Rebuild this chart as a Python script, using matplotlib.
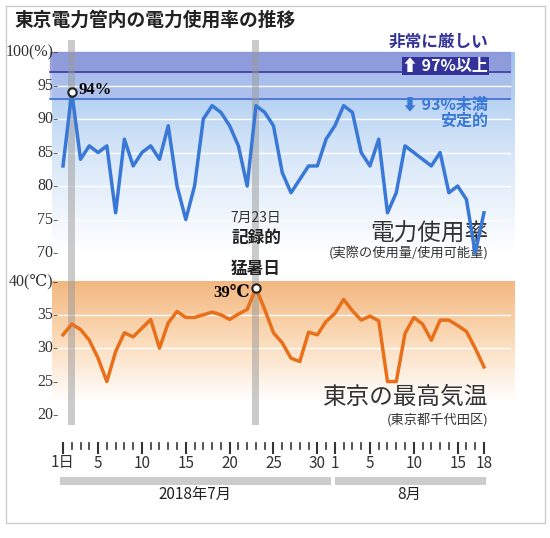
import numpy as np
import matplotlib
matplotlib.use("Agg")
import matplotlib.pyplot as plt
from matplotlib.colors import LinearSegmentedColormap

plt.rcParams['font.family'] = ['Noto Sans CJK JP', 'DejaVu Sans']

days = list(range(1, 32)) + list(range(1, 19))
power = [83, 94, 84, 86, 85, 86, 76, 87, 83, 85, 86, 84, 89, 80, 75, 80, 90, 92, 91, 89,
         86, 80, 92, 91, 89, 82, 79, 81, 83, 83, 87, 89, 92, 91, 85, 83, 87, 76, 79, 86,
         85, 84, 83, 85, 79, 80, 78, 70, 76]
temp = [32, 33.6, 32.8, 31.2, 28.5, 25, 29.5, 32.3, 31.7, 33, 34.3, 30, 33.8, 35.5, 34.6,
        34.6, 35, 35.4, 35, 34.3, 35.1, 35.8, 39, 35.8, 32.3, 30.8, 28.5, 28, 32.4, 32,
        34, 35.2, 37.3, 35.6, 34.2, 34.8, 34.1, 25, 25, 32.2, 34.6, 33.6, 31.2, 34.2,
        34.2, 33.4, 32.5, 30, 27.2]
power_ticks = [70, 75, 80, 85, 90, 95, 100]
temp_ticks = [20, 25, 30, 35, 40]
tick_days = ["1日", "5", "10", "15", "20", "25", "30", "1", "5", "10", "15", "18"]
tick_idx = [0, 4, 9, 14, 19, 24, 29, 31, 35, 40, 45, 48]

W, H = 550, 538
fig = plt.figure(figsize=(5.5, 5.38), dpi=100)
fig.patch.set_facecolor('white')

def ax_px(l, t, r, b):
    return fig.add_axes([l / W, 1 - b / H, (r - l) / W, (b - t) / H])

# outer frame
frame = fig.add_axes([0, 0, 1, 1]); frame.set_xlim(0, W); frame.set_ylim(H, 0); frame.axis('off')
frame.add_patch(plt.Rectangle((6, 6), 539, 517, fill=False, ec='#cccccc', lw=1))
frame.text(14, 20, "東京電力管内の電力使用率の推移", fontsize=13.5, fontweight='bold', va='center', color='#222')

x = np.arange(len(days))
x0, dx = 63, 8.77
xl = ((40 - x0) / dx, (525 - x0) / dx)
serif = ['Liberation Serif', 'DejaVu Serif']

# power axes
a1 = ax_px(40, 40, 525, 260)
a1.set_xlim(*xl); a1.set_ylim(68.96, 101.8); a1.axis('off')
grad = np.linspace(1, 0, 256).reshape(-1, 1)
cm_b = LinearSegmentedColormap.from_list('b', ['#ffffff', '#d6e6f8', '#9cc2ee'])
a1.imshow(grad, aspect='auto', cmap=cm_b, extent=(-1.2, 51.5, 70, 100), zorder=0)
a1.axhspan(97, 100, xmin=0.02, xmax=0.97, color='#8a8fd6', alpha=0.75, zorder=1)
a1.axhspan(93, 97, xmin=0.02, xmax=0.97, color='#a9b6ea', alpha=0.6, zorder=1)
a1.axhline(97, xmin=0.02, xmax=0.97, color='#3a3a9a', lw=1.2, zorder=2)
a1.axhline(93, xmin=0.02, xmax=0.97, color='#3f6fcf', lw=1.2, zorder=2)
for v in [75, 80, 85, 90, 95]:
    a1.axhline(v, xmin=0.02, xmax=0.97, color='white', lw=1, zorder=2)
a1.axvspan(0.6, 1.4, color='#999999', alpha=0.5, zorder=2, lw=0)
a1.axvspan(21.6, 22.4, color='#999999', alpha=0.5, zorder=2, lw=0)
a1.plot(x, power, color='#3a78d8', lw=2.5, zorder=4)
a1.plot(1, 94, 'o', mfc='white', mec='#222', ms=6, mew=1.5, zorder=5)
a1.text(1.8, 94.3, "94%", family=serif, fontsize=12, fontweight='bold', va='center', zorder=6)
for v in power_ticks:
    lab = "100(%)-" if v == 100 else f"{v}-"
    a1.text(-0.5, v, lab, family=serif, fontsize=11.5, ha='right', va='center', color='#333')
a1.text(48.5, 100.2, "非常に厳しい", ha='right', va='bottom', fontsize=12, color='#33339a', fontweight='bold')
a1.text(48.5, 97.9, "⬆ 97%以上", ha='right', va='center', fontsize=11.5, color='white', fontweight='bold',
        bbox=dict(fc='#33339a', ec='none', pad=0.5))
a1.text(48.5, 92.2, "⬇ 93%未満", ha='right', va='center', fontsize=11.5, color='#3a78d8', fontweight='bold')
a1.text(48.5, 89.7, "安定的", ha='right', va='center', fontsize=11.5, color='#3a78d8', fontweight='bold')
a1.text(48.5, 72.8, "電力使用率", ha='right', va='center', fontsize=17, color='#333')
a1.text(48.5, 70.0, "(実際の使用量/使用可能量)", ha='right', va='center', fontsize=9.5, color='#333')
a1.text(22, 75.3, "7月23日", ha='center', va='center', fontsize=10, color='#333')
a1.text(22, 72.2, "記録的", ha='center', va='center', fontsize=12, fontweight='bold', color='#222')

# temp axes
a2 = ax_px(40, 260, 525, 425)
a2.set_xlim(*xl); a2.set_ylim(18.5, 43.2); a2.axis('off')
cm_o = LinearSegmentedColormap.from_list('o', ['#ffffff', '#fbdcbc', '#f3b77f'])
a2.imshow(grad, aspect='auto', cmap=cm_o, extent=(-1.2, 51.5, 22, 40), zorder=0)
for v in [30, 35]:
    a2.axhline(v, xmin=0.02, xmax=0.97, color='white', lw=1, zorder=2)
a2.axvspan(0.6, 1.4, color='#999999', alpha=0.5, zorder=2, lw=0, ymin=0, ymax=1)
a2.axvspan(21.6, 22.4, color='#999999', alpha=0.5, zorder=2, lw=0)
a2.plot(x, temp, color='#e8701a', lw=2.5, zorder=4)
a2.plot(22, 39, 'o', mfc='white', mec='#222', ms=6, mew=1.5, zorder=5)
a2.text(21.3, 38.3, "39℃", family=['Liberation Serif', 'DejaVu Serif'], fontsize=12, fontweight='bold',
        ha='right', va='center', zorder=6)
a2.text(22, 41.8, "猛暑日", ha='center', va='center', fontsize=12, fontweight='bold', color='#222')
for v in temp_ticks:
    lab = "40(℃)-" if v == 40 else f"{v}-"
    a2.text(-0.5, v, lab, family=serif, fontsize=11.5, ha='right', va='center', color='#333')
a2.text(48.5, 22.7, "東京の最高気温", ha='right', va='center', fontsize=17, color='#333')
a2.text(48.5, 19.3, "(東京都千代田区)", ha='right', va='center', fontsize=9.5, color='#333')

# tick axes
a3 = ax_px(40, 425, 525, 515)
a3.set_xlim(*xl); a3.set_ylim(90, 0); a3.axis('off')
for i in x:
    big = i in tick_idx
    a3.plot([i, i], [18, 28 if big else 24], color='#333', lw=1.5 if big else 1.2)
for i, lab in zip(tick_idx, tick_days):
    a3.text(i, 38, lab, ha='center', va='center', fontsize=11, color='#333')
a3.add_patch(plt.Rectangle((-0.3, 52), 30.9, 8, color='#cccccc', lw=0))
a3.add_patch(plt.Rectangle((31.0, 52), 17.2, 8, color='#cccccc', lw=0))
a3.text(15, 69, "2018年7月", ha='center', va='center', fontsize=11, color='#222')
a3.text(39.5, 69, "8月", ha='center', va='center', fontsize=11, color='#222')

fig.savefig("out.png", dpi=100)
